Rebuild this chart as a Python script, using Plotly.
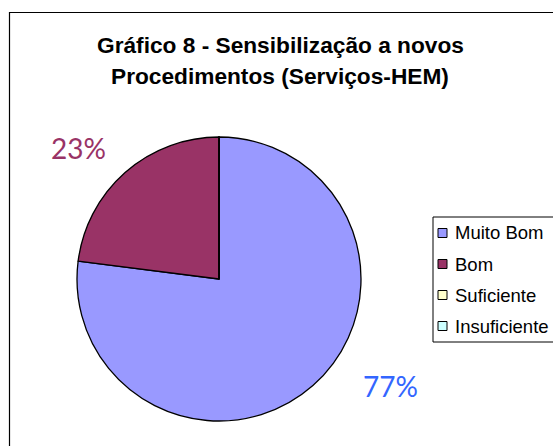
import plotly.graph_objects as go

# ---- data ----
categories = ["Muito Bom", "Bom", "Suficiente", "Insuficiente"]
values = [77, 23, 0, 0]
colors = ["#9999FF", "#993366", "#FFFFCC", "#CCFFFF"]
label_colors = ["#3366FF", "#993366", "#000000", "#000000"]
title_lines = ["Gráfico 8 - Sensibilização a novos", "Procedimentos (Serviços-HEM)"]

W, H = 553, 446


def px(x):
    return x / W


def py(y):
    return 1 - y / H


fig = go.Figure()

# pie geometry (window pixels)
cx, cy, r = 219, 279, 142
fig.add_trace(go.Pie(
    labels=categories,
    values=values,
    marker=dict(colors=colors, line=dict(color="#000000", width=1.3)),
    sort=False,
    direction="clockwise",
    rotation=0,
    textinfo="none",
    hoverinfo="label+percent",
    showlegend=False,
    domain=dict(x=[px(cx - r), px(cx + r)], y=[py(cy + r), py(cy - r)]),
))

annotations = []
shapes = []

# title
title_y = [45, 76]
for line, ty in zip(title_lines, title_y):
    annotations.append(dict(
        x=px(280), y=py(ty), xref="paper", yref="paper",
        text="<b>" + line + "</b>", showarrow=False,
        font=dict(family="Liberation Sans, Arial", size=22.7, color="#000000"),
        xanchor="center", yanchor="middle",
    ))

# percentage labels
total = sum(values)
label_pos = {0: (390, 386), 1: (78, 148)}
for i, (pos_x, pos_y) in label_pos.items():
    pct = round(values[i] / total * 100)
    annotations.append(dict(
        x=px(pos_x), y=py(pos_y), xref="paper", yref="paper",
        text=f"{pct}%", showarrow=False,
        font=dict(family="Lato, Open Sans", size=28, color=label_colors[i]),
        xanchor="center", yanchor="middle",
    ))

# custom legend (right edge lies outside the visible area, as in the reference)
lx0, ly0, lx1, ly1 = 433, 217, 575, 342
shapes.append(dict(type="rect", xref="paper", yref="paper",
                   x0=px(lx0), y0=py(ly1), x1=px(lx1), y1=py(ly0),
                   line=dict(color="#000000", width=1), fillcolor="#FFFFFF"))
item_y0, item_gap = 233, 31
for k, (cat, col) in enumerate(zip(categories, colors)):
    yy = item_y0 + k * item_gap
    shapes.append(dict(type="rect", xref="paper", yref="paper",
                       x0=px(438), y0=py(yy + 4.5), x1=px(447), y1=py(yy - 4.5),
                       line=dict(color="#000000", width=1), fillcolor=col))
    annotations.append(dict(
        x=px(453), y=py(yy), xref="paper", yref="paper",
        text=cat, showarrow=False,
        font=dict(family="Liberation Sans, Arial", size=18.5, color="#000000"),
        xanchor="left", yanchor="middle",
    ))

# chart area border
shapes.append(dict(type="rect", xref="paper", yref="paper",
                   x0=px(9.5), y0=py(H + 10), x1=px(W + 10), y1=py(12.5),
                   line=dict(color="#000000", width=1.2), fillcolor="rgba(0,0,0,0)",
                   layer="above"))

fig.update_layout(
    width=W, height=H,
    margin=dict(l=0, r=0, t=0, b=0),
    paper_bgcolor="#FFFFFF",
    plot_bgcolor="#FFFFFF",
    annotations=annotations,
    shapes=shapes,
    showlegend=False,
)

fig.write_html(
    "out.html",
    config={"displayModeBar": False},
    post_script="document.body.style.margin='0';document.body.style.overflow='hidden';",
)
